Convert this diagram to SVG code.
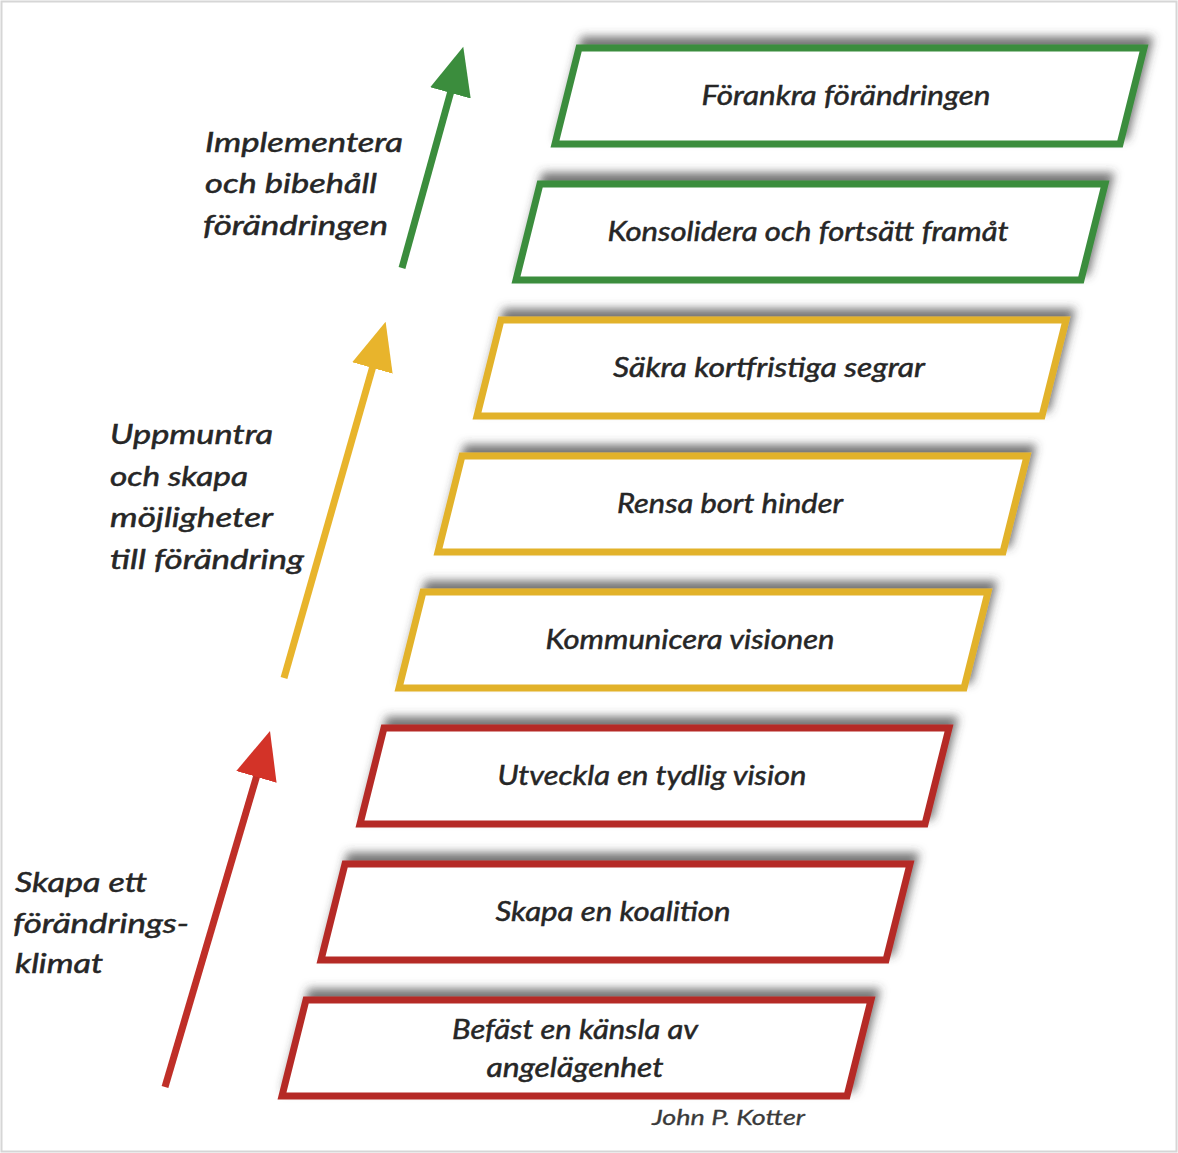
<svg xmlns="http://www.w3.org/2000/svg" width="1178" height="1153" viewBox="0 0 1178 1153">
<defs>
<filter id="sh" x="-10%" y="-40%" width="125%" height="170%">
<feDropShadow dx="5" dy="-8" stdDeviation="5" flood-color="#3a3a3a" flood-opacity="0.7"/>
</filter>
<marker id="hg" markerUnits="userSpaceOnUse" markerWidth="50" markerHeight="44" refX="2" refY="21" orient="auto">
<path d="M0,0 L48,21 L0,42 z" fill="#3b8d3d"/>
</marker>
<marker id="hy" markerUnits="userSpaceOnUse" markerWidth="50" markerHeight="44" refX="2" refY="21" orient="auto">
<path d="M0,0 L48,21 L0,42 z" fill="#e8b42c"/>
</marker>
<marker id="hr" markerUnits="userSpaceOnUse" markerWidth="50" markerHeight="44" refX="2" refY="21" orient="auto">
<path d="M0,0 L48,21 L0,42 z" fill="#d33328"/>
</marker>
</defs>
<style>
.box{fill:#fff;stroke-width:7;stroke-linejoin:miter;filter:url(#sh)}
.g{stroke:#3b8d3d}
.y{stroke:#e2b22c}
.r{stroke:#b52b26}
.t{font-family:Lato,"Open Sans","Liberation Sans",sans-serif;font-style:italic;font-size:27px;fill:#262626;stroke:#262626;stroke-width:0.5;text-anchor:middle}
.l{font-family:Lato,"Open Sans","Liberation Sans",sans-serif;font-style:italic;font-size:27px;fill:#262626;stroke:#262626;stroke-width:0.5}
.a{stroke-width:7;fill:none;stroke-linecap:butt}
</style>
<rect x="1.5" y="1.5" width="1175" height="1150" fill="#fff" stroke="#d6d6d6" stroke-width="2"/>

<g id="connectors">
<line class="a" x1="402" y1="268" x2="451" y2="91" stroke="#3b8d3d" marker-end="url(#hg)"/>
<line class="a" x1="284" y1="678" x2="373" y2="366" stroke="#e8b42c" marker-end="url(#hy)"/>
<line class="a" x1="165" y1="1087" x2="257" y2="775" stroke="#bf2f28" marker-end="url(#hr)"/>
</g>

<g id="label-implementera">
<text class="l" x="205" y="152" textLength="198" lengthAdjust="spacingAndGlyphs">Implementera</text>
<text class="l" x="205" y="193" textLength="172" lengthAdjust="spacingAndGlyphs">och bibehåll</text>
<text class="l" x="203" y="235" textLength="185" lengthAdjust="spacingAndGlyphs">förändringen</text>
</g>
<g id="label-uppmuntra">
<text class="l" x="110" y="444" textLength="163" lengthAdjust="spacingAndGlyphs">Uppmuntra</text>
<text class="l" x="110" y="486" textLength="138" lengthAdjust="spacingAndGlyphs">och skapa</text>
<text class="l" x="110" y="527" textLength="163" lengthAdjust="spacingAndGlyphs">möjligheter</text>
<text class="l" x="110" y="569" textLength="194" lengthAdjust="spacingAndGlyphs">till förändring</text>
</g>
<g id="label-skapa">
<text class="l" x="15" y="892" textLength="132" lengthAdjust="spacingAndGlyphs">Skapa ett</text>
<text class="l" x="13" y="933" textLength="176" lengthAdjust="spacingAndGlyphs">förändrings-</text>
<text class="l" x="15" y="973" textLength="88" lengthAdjust="spacingAndGlyphs">klimat</text>
</g>

<g id="step8">
<polygon class="box g" points="579,48 1144,48 1120,144 555,144"/>
<text class="t" x="846" y="105" textLength="289" lengthAdjust="spacingAndGlyphs">Förankra förändringen</text>
</g>
<g id="step7">
<polygon class="box g" points="540,184 1105,184 1081,280 516,280"/>
<text class="t" x="808" y="241" textLength="401" lengthAdjust="spacingAndGlyphs">Konsolidera och fortsätt framåt</text>
</g>
<g id="step6">
<polygon class="box y" points="501,320 1066,320 1042,416 477,416"/>
<text class="t" x="769" y="377" textLength="312" lengthAdjust="spacingAndGlyphs">Säkra kortfristiga segrar</text>
</g>
<g id="step5">
<polygon class="box y" points="462,456 1027,456 1003,552 438,552"/>
<text class="t" x="730" y="513" textLength="226" lengthAdjust="spacingAndGlyphs">Rensa bort hinder</text>
</g>
<g id="step4">
<polygon class="box y" points="423,592 988,592 964,688 399,688"/>
<text class="t" x="690" y="649" textLength="289" lengthAdjust="spacingAndGlyphs">Kommunicera visionen</text>
</g>
<g id="step3">
<polygon class="box r" points="384,728 949,728 925,824 360,824"/>
<text class="t" x="652" y="785" textLength="309" lengthAdjust="spacingAndGlyphs">Utveckla en tydlig vision</text>
</g>
<g id="step2">
<polygon class="box r" points="345,864 910,864 886,960 321,960"/>
<text class="t" x="613" y="921" textLength="235" lengthAdjust="spacingAndGlyphs">Skapa en koalition</text>
</g>
<g id="step1">
<polygon class="box r" points="306,1000 871,1000 847,1096 282,1096"/>
<text class="t" x="575" y="1039" textLength="246" lengthAdjust="spacingAndGlyphs">Befäst en känsla av</text>
<text class="t" x="575" y="1077" textLength="177" lengthAdjust="spacingAndGlyphs">angelägenhet</text>
</g>

<g id="credit">
<text class="l" x="652" y="1125" style="font-size:21px;fill:#3a3a3a;stroke:#3a3a3a;stroke-width:0.3" textLength="153" lengthAdjust="spacingAndGlyphs">John P. Kotter</text>
</g>
</svg>
